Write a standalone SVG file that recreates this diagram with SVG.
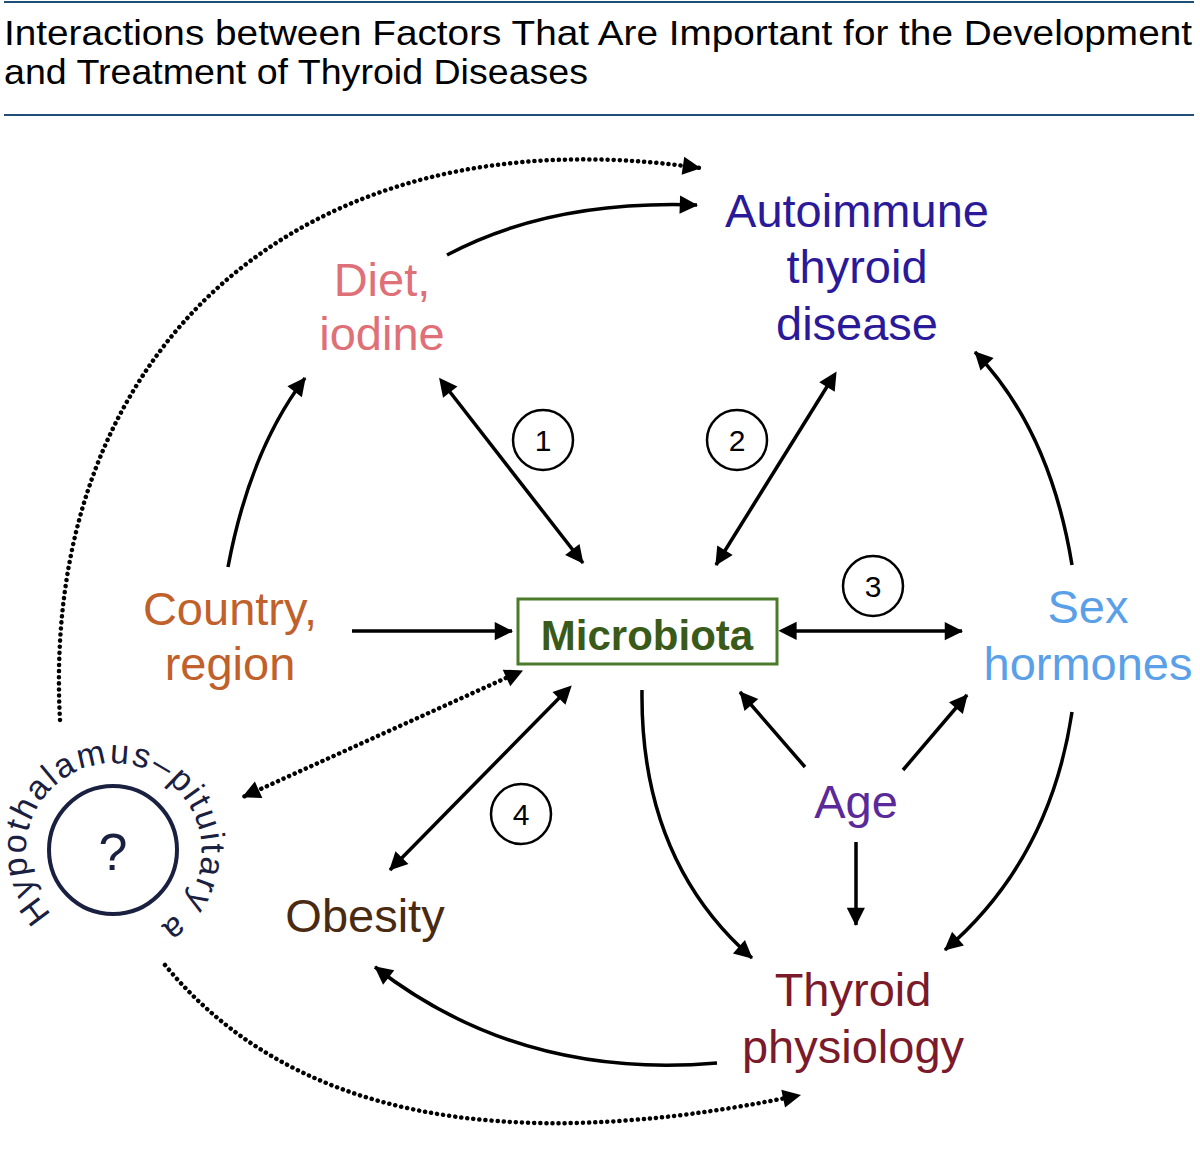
<svg xmlns="http://www.w3.org/2000/svg" width="1200" height="1165" viewBox="0 0 1200 1165">
<style>
text{font-family:"Liberation Sans",Arial,sans-serif}
.t{font-size:47px;text-anchor:middle}
.n{font-size:30px;text-anchor:middle}
.a{fill:none;stroke:#000;stroke-width:3.5;marker-end:url(#ah)}
.d{marker-start:url(#as)}
.dot{fill:none;stroke:#000;stroke-width:4.5;stroke-dasharray:0.1 6;stroke-linecap:round;marker-end:url(#ah)}
.c{fill:#fff;stroke:#000;stroke-width:2.5}
</style>
<defs>
<marker id="ah" viewBox="0 0 10 10" refX="9" refY="5" markerWidth="7" markerHeight="7" markerUnits="userSpaceOnUse" orient="auto" style="overflow:visible"><path d="M0,0L10,5L0,10z" transform="scale(2.6) translate(-6,-3)"/></marker>
<marker id="as" viewBox="0 0 10 10" refX="1" refY="5" markerWidth="7" markerHeight="7" orient="auto-start-reverse" markerUnits="userSpaceOnUse" style="overflow:visible"><path d="M0,0L10,5L0,10z" transform="scale(2.6) translate(-6,-3)"/></marker>
<path id="hp" d="M52,914 A88,88 0 1 1 155,929"/>
</defs>
<rect width="1200" height="1165" fill="#fff"/>
<g id="title">
<line x1="4" y1="2" x2="1194" y2="2" stroke="#1f4e79" stroke-width="2"/>
<text x="4" y="45" font-size="35" textLength="1188" lengthAdjust="spacingAndGlyphs">Interactions between Factors That Are Important for the Development</text>
<text x="4" y="84" font-size="35" textLength="584" lengthAdjust="spacingAndGlyphs">and Treatment of Thyroid Diseases</text>
<line x1="4" y1="115" x2="1194" y2="115" stroke="#1f4e79" stroke-width="2"/>
</g>
<g id="connectors">
<path class="dot" d="M60,720 C40,350 300,110 700,168"/>
<path class="a" d="M447,255 Q550,200 697,205"/>
<path class="a" d="M228,567 Q250,450 305,378"/>
<path class="a d" d="M443,383 L583,563"/>
<path class="a d" d="M833,377 L716,565"/>
<path class="a" d="M352,631 L512,631"/>
<path class="a d" d="M785,631 L962,631"/>
<path class="a" d="M1072,565 Q1050,430 975,352"/>
<path class="a" d="M1072,712 Q1050,860 945,950"/>
<path class="a" d="M805,767 L740,692"/>
<path class="a" d="M903,770 L967,695"/>
<path class="a" d="M856,842 L856,925"/>
<path class="a" d="M642,690 Q640,860 752,958"/>
<path class="a" d="M717,1063 Q520,1080 375,967"/>
<path class="a d" d="M567,690 L390,870"/>
<path class="dot d" d="M517,673 L243,797"/>
<path class="dot" d="M165,965 Q350,1190 800,1095"/>
</g>
<g id="n1"><circle class="c" cx="543" cy="440" r="30"/><text class="n" x="543" y="451">1</text></g>
<g id="n2"><circle class="c" cx="737" cy="440" r="30"/><text class="n" x="737" y="451">2</text></g>
<g id="n3"><circle class="c" cx="873" cy="586" r="30"/><text class="n" x="873" y="597">3</text></g>
<g id="n4"><circle class="c" cx="521" cy="814" r="30"/><text class="n" x="521" y="825">4</text></g>
<g id="autoimmune" fill="#2a1a9a"><text class="t" x="857" y="227">Autoimmune</text><text class="t" x="857" y="283">thyroid</text><text class="t" x="857" y="340">disease</text></g>
<g id="diet" fill="#e07078"><text class="t" x="382" y="296">Diet,</text><text class="t" x="382" y="350">iodine</text></g>
<g id="country" fill="#c0602a"><text class="t" x="230" y="625">Country,</text><text class="t" x="230" y="680">region</text></g>
<g id="microbiota"><rect x="518" y="599" width="259" height="65" fill="#fff" stroke="#4a7a2a" stroke-width="3"/><text x="647" y="650" font-size="42" font-weight="bold" text-anchor="middle" fill="#3a5a1a">Microbiota</text></g>
<g id="sex" fill="#5aa0e8"><text class="t" x="1088" y="623">Sex</text><text class="t" x="1088" y="680">hormones</text></g>
<g id="age" fill="#5a2a9a"><text class="t" x="856" y="818">Age</text></g>
<g id="obesity" fill="#4a2a10"><text class="t" x="365" y="932">Obesity</text></g>
<g id="thyroid" fill="#7a1a2a"><text class="t" x="853" y="1006">Thyroid</text><text class="t" x="853" y="1063">physiology</text></g>
<g id="hpa" fill="#1a2040">
<circle cx="113" cy="850" r="64" fill="none" stroke="#1a2040" stroke-width="4"/>
<text x="113" y="870" font-size="52" text-anchor="middle">?</text>
<text font-size="34" letter-spacing="2.2"><textPath href="#hp">Hypothalamus–pituitary axis</textPath></text>
</g>
</svg>
